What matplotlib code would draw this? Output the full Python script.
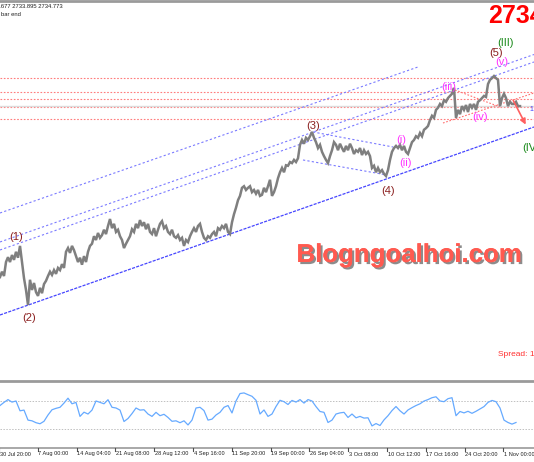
import numpy as np
import matplotlib
matplotlib.use("Agg")
import matplotlib.pyplot as plt
import matplotlib.patheffects as pe
from matplotlib.transforms import blended_transform_factory

# XAUUSD H4 closes, one sample every ~1.5 bars
close = [
    2416, 2426, 2418, 2444, 2453, 2444, 2457, 2448, 2463, 2452,
    2474, 2444, 2414, 2392, 2364, 2411, 2392, 2405, 2388, 2381,
    2396, 2386, 2403, 2409, 2418, 2426, 2420, 2429, 2422, 2433,
    2429, 2440, 2433, 2463, 2470, 2461, 2474, 2466, 2455, 2444,
    2452, 2439, 2455, 2444, 2463, 2474, 2478, 2492, 2485, 2498,
    2489, 2494, 2504, 2496, 2511, 2524, 2507, 2515, 2500, 2504,
    2492, 2485, 2470, 2478, 2485, 2492, 2505, 2500, 2515, 2507,
    2522, 2511, 2518, 2505, 2515, 2500, 2496, 2507, 2492, 2504,
    2515, 2520, 2507, 2511, 2500, 2496, 2504, 2492, 2489, 2494,
    2485, 2489, 2474, 2485, 2481, 2492, 2500, 2507, 2500, 2511,
    2515, 2500, 2489, 2485, 2492, 2489, 2496, 2500, 2492, 2507,
    2504, 2511, 2507, 2515, 2500, 2496, 2518, 2533, 2545, 2559,
    2567, 2582, 2585, 2578, 2582, 2585, 2574, 2578, 2571, 2578,
    2567, 2569, 2582, 2574, 2585, 2597, 2567, 2574, 2585, 2600,
    2611, 2619, 2611, 2624, 2623, 2630, 2628, 2634, 2630, 2637,
    2662, 2671, 2664, 2675, 2671, 2678, 2686, 2675, 2667, 2656,
    2662, 2649, 2641, 2634, 2628, 2641, 2652, 2667, 2662, 2652,
    2664, 2656, 2649, 2660, 2652, 2664, 2656, 2645, 2652, 2649,
    2656, 2643, 2652, 2645, 2649, 2641, 2619, 2623, 2611, 2619,
    2611, 2615, 2608, 2604, 2615, 2634, 2649, 2656, 2660, 2656,
    2662, 2652, 2660, 2649, 2645, 2656, 2667, 2671, 2678, 2675,
    2684, 2678, 2690, 2693, 2697, 2708, 2716, 2712, 2727, 2731,
    2738, 2734, 2745, 2742, 2749, 2753, 2757, 2768, 2712, 2727,
    2719, 2734, 2727, 2736, 2723, 2738, 2731, 2738, 2727, 2742,
    2745, 2749, 2753, 2751, 2775, 2783, 2786, 2790, 2786, 2783,
    2734, 2749, 2757, 2749, 2734, 2742, 2738, 2738, 2742, 2734,
    2734,
]

# oscillator in the lower window, one value every 2 samples
osc = [
    63.5, 68, 72, 68.4, 70, 56, 57, 42.7, 41.7, 39,
    37.5, 41, 50, 57.5, 59.5, 61, 67, 74, 66, 68,
    48, 54, 51.4, 57, 70, 68, 66, 71.8, 61, 60,
    57, 40.7, 45, 52, 60, 57, 57.5, 51.4, 48, 53.8,
    49, 51, 46.5, 41, 41.7, 39, 41.7, 35.8, 42.7, 60,
    61, 56.3, 42.7, 44.1, 50, 53.8, 61, 63.5, 52.9, 70,
    80.6, 81.5, 79, 76.7, 71, 51.4, 57.2, 48, 51.4, 62.1,
    71, 69, 65, 70.8, 68.4, 72, 67, 72, 70, 62,
    55, 53.8, 39.3, 42.7, 51.4, 53, 53.8, 46.5, 51.4, 46,
    48, 45.6, 46, 34.4, 37.8, 35, 43, 49, 56.3, 62.1,
    56, 51.4, 57.2, 60.5, 63.5, 66, 69.9, 72, 74.7, 76,
    70, 69, 73.3, 74.7, 49, 55, 53, 55.3, 52.4, 55.3,
    58.7, 62, 68, 70.8, 69, 60, 42.7, 39.3, 37, 39.3,
]
osc_levels = [70, 30]

bid = 2734.77
levels = [2787, 2761, 2747, 2732, 2710]

# trend lines: (sample, price) anchors
lower_channel = [(0, 2345.5), (267, 2695.2)]
upper_lines = [
    [(0, 2535.2), (209, 2806.8)],
    [(0, 2481.3), (267, 2830.0)],
    [(0, 2466.4), (267, 2816.1)],
    [(156.5, 2685.9), (196.5, 2658.0)],
    [(151.5, 2633.8), (193.5, 2605.9)],
]
red_lines = [
    [(221.5, 2702.6), (267, 2758.4)],
    [(227.5, 2764.0), (250, 2732.4)],
]
arrow = [(256, 2749), (263.5, 2695)]

# wave labels: text, sample, price, colour
waves = [
    ("(1)", 8, 2490, "#8b2020"), ("(2)", 14.5, 2340, "#8b2020"),
    ("(3)", 156.5, 2697, "#8b2020"), ("(4)", 194, 2576, "#8b2020"),
    ("(5)", 248, 2833, "#8b2020"),
    ("(i)", 200.5, 2671, "#ff33ff"), ("(ii)", 203, 2628, "#ff33ff"),
    ("(iii)", 224.5, 2770, "#ff33ff"), ("(iv)", 240, 2714, "#ff33ff"),
    ("(v)", 251, 2816, "#ff33ff"),
    ("(III)", 253, 2851, "#1a8a1a"),
]

dates = ["30 Jul 20:00", "7 Aug 00:00", "14 Aug 04:00", "21 Aug 08:00",
         "28 Aug 12:00", "4 Sep 16:00", "11 Sep 20:00", "19 Sep 00:00",
         "26 Sep 04:00", "3 Oct 08:00", "10 Oct 12:00", "17 Oct 16:00",
         "24 Oct 20:00", "1 Nov 00:00"]
samples_per_label = 19.4

W, H = 534, 462
fig = plt.figure(figsize=(W / 100, H / 100), dpi=100)
fig.patch.set_facecolor("white")

def frac(y):
    return 1 - y / H

ax = fig.add_axes([0, frac(381), 1, (381 - 3) / H])
ax.set_xlim(0, W / 2)
ax.set_ylim(2222.7, 2925.8)
ax.axis("off")

for lv in levels:
    ax.axhline(lv, color="#ff7c7c", lw=0.8, ls=(0, (1.5, 1.5)))
ax.axhline(bid, color="#dcdcdc", lw=1.0)

(x0, y0), (x1, y1) = lower_channel
ax.plot([x0, x1], [y0, y1], color="#4646ff", lw=0.9, ls=(0, (2.5, 1)))
for ln in upper_lines:
    ax.plot([p[0] for p in ln], [p[1] for p in ln], color="#7a7aff",
            lw=0.8, ls=(0, (2, 2)))
for ln in red_lines:
    ax.plot([p[0] for p in ln], [p[1] for p in ln], color="#ff7070",
            lw=0.8, ls=(0, (1.5, 1.5)))

bars = np.arange(len(close))
ax.plot(bars, close, color="#7f7f7f", lw=1.8, solid_joinstyle="miter")

ax.annotate("", xy=arrow[1], xytext=arrow[0],
            arrowprops=dict(arrowstyle="-|>", color="#ff6060", lw=1.2,
                            mutation_scale=8))

for txt, sx, py, c in waves:
    ax.text(sx, py, txt, color=c, fontsize=8, ha="center", va="center",
            family="Liberation Sans")
ax.text(261, 2657, "(IV", color="#1a8a1a", fontsize=8, ha="left",
        va="center", family="Liberation Sans")
ax.text(265.5, 2728, "1", color="#4646ff", fontsize=5, ha="center",
        va="center", family="Liberation Sans")

# texts in pixel positions
def ftext(x, y, s, **kw):
    fig.text(x / W, frac(y), s, **kw)

ftext(488, 16, "2734", color="#ff0000", fontsize=18, weight="bold",
      family="Liberation Sans", va="center", ha="left")
ftext(63, 7, "5.677 2733.895 2734.773", color="#202020", fontsize=4.2,
      family="Liberation Sans", va="center", ha="right")
ftext(21, 15, "bar end", color="#202020", fontsize=4.2,
      family="Liberation Sans", va="center", ha="right")
ftext(498, 355, "Spread: 16", color="#ff3030", fontsize=6,
      family="Liberation Sans", va="center", ha="left")
ftext(409, 255, "Blogngoalhoi.com", color="#ff5a50", fontsize=18.6,
      weight="bold", family="Liberation Sans", va="center", ha="center",
      path_effects=[pe.withSimplePatchShadow(offset=(1.5, -1.5),
                                             shadow_rgbFace="#707070",
                                             alpha=0.8), pe.Normal()])

# indicator window
ax2 = fig.add_axes([0, frac(448), 1, (448 - 382) / H])
ax2.set_xlim(0, W / 2)
ax2.set_ylim(2.9, 97.1)
ax2.axis("off")
for lv in osc_levels:
    ax2.axhline(lv, color="#c0c0c0", lw=0.7, ls=(0, (1.5, 1.5)))
ax2.plot(np.arange(len(osc)) * 2, osc, color="#66aaff", lw=0.9)

# frame lines
line_kw = dict(color="#9a9a9a", transform=fig.transFigure)
fig.add_artist(plt.Line2D([0, 1], [frac(1), frac(1)], lw=2, **line_kw))
fig.add_artist(plt.Line2D([0, 1], [frac(381), frac(381)], lw=2, **line_kw))
fig.add_artist(plt.Line2D([0, 1], [frac(448), frac(448)], lw=1.2, **line_kw))

tr = blended_transform_factory(ax2.transData, fig.transFigure)
for i, d in enumerate(dates):
    tx = i * samples_per_label - 0.5
    fig.add_artist(plt.Line2D([tx, tx], [frac(448), frac(451)], lw=0.8,
                              color="#505050", transform=tr))
    fig.text(tx + 0.3, frac(454), d, transform=tr, fontsize=4.1,
             family="Liberation Sans", color="#202020", va="center",
             ha="left")

fig.savefig("out.png", dpi=100, facecolor="white")
